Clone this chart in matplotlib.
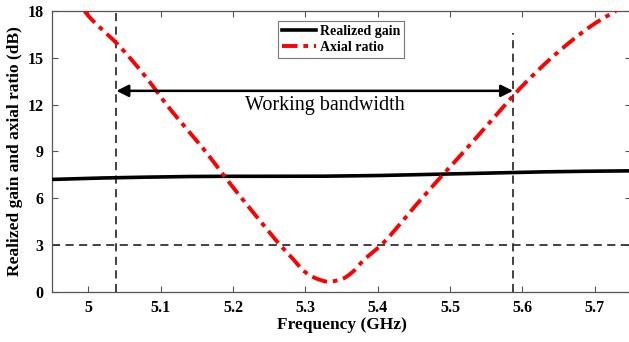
import numpy as np
import matplotlib
matplotlib.use("Agg")
import matplotlib.pyplot as plt

plt.rcParams['font.family'] = ['Liberation Serif', 'DejaVu Serif']

# Realized gain (dB) versus frequency (GHz)
gain_freq = [4.95, 5.00, 5.05, 5.10, 5.15, 5.20, 5.25, 5.30, 5.35, 5.40, 5.45,
             5.50, 5.55, 5.60, 5.65, 5.70, 5.75]
gain_db = [7.20, 7.27, 7.32, 7.36, 7.39, 7.40, 7.40, 7.40, 7.42, 7.45, 7.50,
           7.55, 7.61, 7.66, 7.70, 7.73, 7.75]

# Axial ratio (dB) versus frequency (GHz)
ar_freq = [4.995, 5.00, 5.04, 5.094, 5.10, 5.162, 5.19, 5.20, 5.24, 5.265, 5.28,
           5.30, 5.315, 5.332, 5.35, 5.365, 5.38, 5.405, 5.45, 5.49, 5.50, 5.55,
           5.586, 5.60, 5.65, 5.70, 5.729]
ar_db = [18.0, 17.7, 15.9, 12.9, 12.5, 9.0, 7.3, 6.7, 4.4, 3.0, 2.25,
         1.25, 0.85, 0.64, 0.8, 1.25, 2.0, 3.0, 5.4, 7.5, 8.0, 10.6,
         12.5, 13.2, 15.4, 17.2, 18.0]

band_lo, band_hi = 5.039, 5.587
ar_limit = 3.0
arrow_level = 12.88


def pchip(x, y, xn):
    """Shape-preserving piecewise cubic through the sampled points."""
    x = np.asarray(x, float)
    y = np.asarray(y, float)
    h = np.diff(x)
    d = np.diff(y) / h
    m = np.zeros_like(y)
    for i in range(1, len(y) - 1):
        if d[i - 1] * d[i] <= 0:
            m[i] = 0
        else:
            w1 = 2 * h[i] + h[i - 1]
            w2 = h[i] + 2 * h[i - 1]
            m[i] = (w1 + w2) / (w1 / d[i - 1] + w2 / d[i])
    m[0] = d[0]
    m[-1] = d[-1]
    idx = np.clip(np.searchsorted(x, xn) - 1, 0, len(x) - 2)
    t = (xn - x[idx]) / h[idx]
    h00 = 2 * t**3 - 3 * t**2 + 1
    h10 = t**3 - 2 * t**2 + t
    h01 = -2 * t**3 + 3 * t**2
    h11 = t**3 - t**2
    return h00 * y[idx] + h10 * h[idx] * m[idx] + h01 * y[idx + 1] + h11 * h[idx] * m[idx + 1]


fig = plt.figure(figsize=(6.29, 3.42), dpi=100)
ax = fig.add_axes([52 / 629, 1 - 291.7 / 342, 579 / 629, 280.7 / 342])

xs = np.linspace(ar_freq[0], ar_freq[-1], 800)
ys = pchip(ar_freq, ar_db, xs)
gx = np.linspace(gain_freq[0], gain_freq[-1], 300)
gy = pchip(gain_freq, gain_db, gx)

ax.plot(gx, gy, color='black', lw=2.6, label='Realized gain', zorder=3)
ax.plot(xs, ys, color='#ff0000', lw=2.8, linestyle=(0, (4, 1.5, 1.2, 1.5)),
        label='Axial ratio', zorder=3)

dash = (0, (4.5, 3))
ax.axhline(ar_limit, color='#333333', lw=1.3, linestyle=dash, zorder=2)
ax.plot([band_lo, band_lo], [0, 18], color='#333333', lw=1.3, linestyle=dash, zorder=2)
ax.plot([band_hi, band_hi], [0, 16.6], color='#333333', lw=1.3, linestyle=dash, zorder=2)

ax.annotate('', xy=(band_lo, arrow_level), xytext=(band_hi, arrow_level),
            arrowprops=dict(arrowstyle='<|-|>', color='black', lw=1.8,
                            mutation_scale=18, shrinkA=0, shrinkB=0), zorder=4)
ax.text(5.327, 11.95, 'Working bandwidth', ha='center', va='center', fontsize=14.5)

ax.set_xlim(4.95, 5.75)
ax.set_ylim(0, 18)
ax.set_xticks([5.0, 5.1, 5.2, 5.3, 5.4, 5.5, 5.6, 5.7])
ax.set_xticklabels(['5', '5.1', '5.2', '5.3', '5.4', '5.5', '5.6', '5.7'])
ax.set_yticks([0, 3, 6, 9, 12, 15, 18])
ax.tick_params(direction='in', top=True, right=True, length=4, width=0.8,
               color='#555555', labelsize=11.5, pad=6)
for lab in ax.get_xticklabels() + ax.get_yticklabels():
    lab.set_fontweight('bold')
for s in ax.spines.values():
    s.set_color('#555555')
    s.set_linewidth(0.9)

ax.set_xlabel('Frequency (GHz)', fontsize=12.5, fontweight='bold', labelpad=1)
ax.set_ylabel('Realized gain and axial ratio (dB)', fontsize=12.5, fontweight='bold', labelpad=3)

leg = ax.legend(loc='upper left', bbox_to_anchor=((278 - 52) / 579, (291.7 - 21) / 280.7),
                prop={'weight': 'bold', 'size': 10}, handlelength=2.4, handletextpad=0.3,
                borderpad=0.3, labelspacing=0.2, borderaxespad=0,
                fancybox=False, framealpha=1)
leg.get_frame().set_edgecolor('#777777')
leg.get_frame().set_linewidth(0.8)

fig.savefig('out.png', dpi=100)
